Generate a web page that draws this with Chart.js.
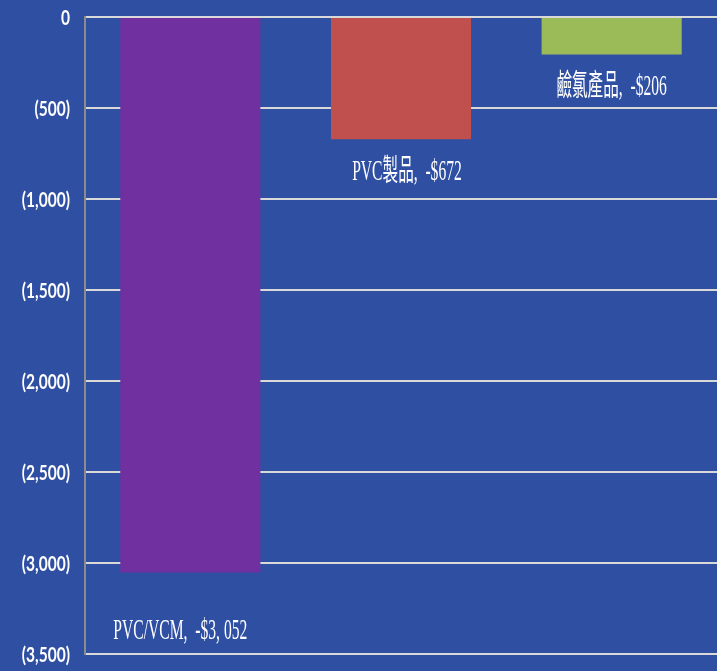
<!DOCTYPE html>
<html lang="zh-Hant">
<head>
    <meta charset="UTF-8">
    <title>Chart</title>
    <style>
        html, body { margin: 0; padding: 0; background-color: #2F4FA2; overflow: hidden; }
        canvas { display: block; }
    </style>
</head>
<body>
    <canvas id="myChart" width="717" height="671"></canvas>

    <script src="https://cdn.jsdelivr.net/npm/chart.js"></script>
    <script>
        // datos
        const categorias = ['PVC/VCM', 'PVC製品', '鹼氯產品'];
        const valores = [-3052, -672, -206];
        const etiquetas = ['PVC/VCM, -$3,052', 'PVC製品, -$672', '鹼氯產品, -$206'];
        const colores = ['#7030A0', '#C0504D', '#9BBB59'];

        // desplazamiento de cada etiqueta bajo la barra (px) y ajuste horizontal
        const offsetY = [59, 33, 33];
        const offsetX = [-10, 6, 0];

        const formatoTick = v => v === 0 ? '0' : '(' + Math.abs(v).toLocaleString('en-US') + ')';

        const etiquetasPlugin = {
            id: 'etiquetas',
            afterDatasetsDraw(chart) {
                const ctx = chart.ctx;
                const meta = chart.getDatasetMeta(0);
                ctx.save();
                ctx.fillStyle = '#FFFFFF';
                ctx.textAlign = 'center';
                ctx.textBaseline = 'middle';
                ctx.font = '30px "Liberation Serif", "Noto Sans CJK TC", serif';
                meta.data.forEach((bar, i) => {
                    ctx.save();
                    ctx.translate(bar.x + offsetX[i], bar.y + offsetY[i]);
                    ctx.scale(0.52, 1);
                    ctx.fillText(etiquetas[i].replace(', ', ',  ').replace(/(\d),(\d)/, '$1, $2'), 0, 0);
                    ctx.restore();
                });

                // etiquetas del eje y (letra estrecha)
                const y = chart.scales.y;
                ctx.textAlign = 'right';
                ctx.font = 'bold 21px Lato, "Liberation Sans", sans-serif';
                y.ticks.forEach(t => {
                    ctx.save();
                    ctx.translate(70, y.getPixelForValue(t.value) + 1);
                    ctx.scale(0.74, 1);
                    ctx.fillText(formatoTick(t.value), 0, 0);
                    ctx.restore();
                });
                ctx.restore();
            }
        };

        const ctx = document.getElementById('myChart');

        const myChart = new Chart(ctx, {
            type: 'bar',
            data: {
                labels: categorias,
                datasets: [{
                    data: valores,
                    backgroundColor: colores,
                    borderWidth: 0,
                    barPercentage: 0.665,
                    categoryPercentage: 1
                }]
            },
            options: {
                responsive: false,
                animation: false,
                layout: { padding: { top: 17, bottom: 17, left: 0, right: 0 } },
                plugins: {
                    legend: { display: false },
                    tooltip: { enabled: false }
                },
                scales: {
                    x: { display: false },
                    y: {
                        min: -3500,
                        max: 0,
                        afterFit(scale) {
                            scale.width = 85;
                            scale.paddingTop = 0;
                            scale.paddingBottom = 0;
                        },
                        ticks: {
                            stepSize: 500,
                            color: 'rgba(0,0,0,0)',
                            padding: 15,
                            callback: formatoTick
                        },
                        grid: { color: '#D9D9D9', lineWidth: 2, drawTicks: false },
                        border: { color: '#8C8C8C', width: 2 }
                    }
                }
            },
            plugins: [etiquetasPlugin]
        });
    </script>
</body>
</html>
